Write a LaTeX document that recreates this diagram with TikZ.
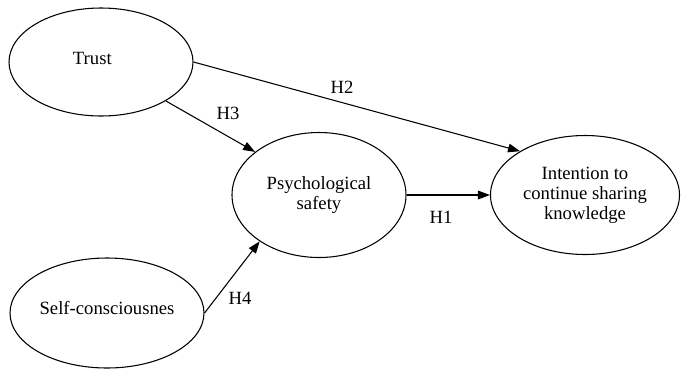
\documentclass[tikz,border=0pt]{standalone}
\usepackage{fontspec}
\setmainfont{Liberation Serif}
\usetikzlibrary{shapes.geometric,arrows.meta}

\begin{document}
\begin{tikzpicture}[x=0.75pt,y=-0.75pt,
		construct/.style={draw,ellipse,line width=0.8pt,inner sep=0pt,align=center,font=\fontsize{14}{15}\selectfont},
		effect/.style={-{Triangle[length=9pt,width=6.5pt]},line width=0.8pt},
		hyp/.style={font=\fontsize{14}{15}\selectfont}]
	
	\useasboundingbox (0,0) rectangle (686,369);
	
	% constructs
	\node[construct,minimum width=138pt,minimum height=81pt] (trust) at (101,62) {\raisebox{6pt}{Trust}\hspace{13pt}};
	\node[construct,minimum width=130.5pt,minimum height=93.75pt] (psy) at (319,195) {Psychological\\safety};
	\node[construct,minimum width=141.75pt,minimum height=89.25pt] (int) at (585,195) {Intention to\\continue sharing\\knowledge};
	\node[construct,minimum width=145.5pt,minimum height=82.5pt] (self) at (107,313) {\raisebox{8pt}{Self-consciousnes}};
	
	% hypotheses
	\draw[effect] (trust.east) -- (int.146);
	\draw[effect] (trust.-31) -- (psy.146);
	\draw[effect] (psy.east) -- (int.west);
	\draw[effect] (self.east) -- (psy.-142);
	
	% labels
	\node[hyp] (h2) at (342,87) {H2};
	\node[hyp] (h3) at (228,113) {H3};
	\node[hyp] (h1) at (441,217) {H1};
	\node[hyp] (h4) at (240,298) {H4};
	
\end{tikzpicture}
\end{document}
